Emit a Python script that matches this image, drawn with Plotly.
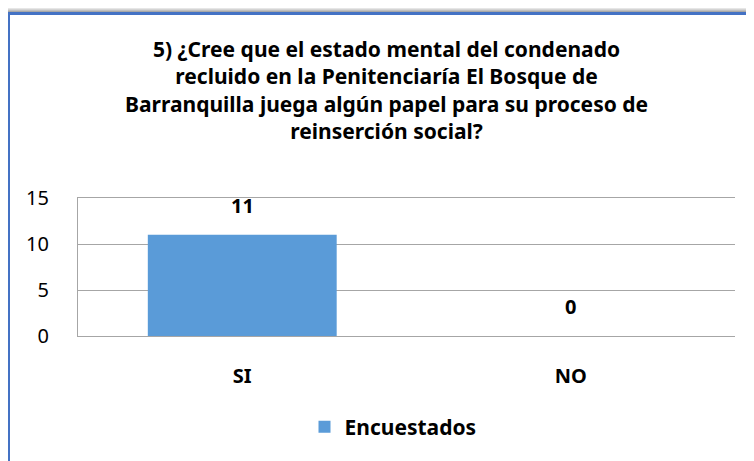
import plotly.graph_objects as go

# data
categories = ["SI", "NO"]
encuestados = [11, 0]
y_ticks = [0, 5, 10, 15]
title_lines = [
    "5) ¿Cree que el estado mental del condenado",
    "recluido en la Penitenciaría El Bosque de",
    "Barranquilla juega algún papel para su proceso de",
    "reinserción social?",
]

W, H = 754, 461
OFF = 8  # page body margin shifts the figure by 8px
# plot area in screen pixels: x 78..735, y 198..336
L, T = 78 - OFF, 198 - OFF
R, B = W - (735 - OFF), H - (336 - OFF)
pw, ph = W - L - R, H - T - B


def px(x):  # screen x -> paper
    return (x - OFF - L) / pw


def py(y):  # screen y -> paper
    return (H - B - (y - OFF)) / ph


fig = go.Figure()
fig.add_trace(go.Bar(x=categories, y=encuestados, name="Encuestados",
                     marker=dict(color="#5a9bd8", line=dict(width=0)),
                     width=0.575))

# value labels above bars
for c, v in zip(categories, encuestados):
    fig.add_annotation(x=c, y=v, text=str(v), showarrow=False, yanchor="bottom",
                       yshift=14, font=dict(family="Noto Sans", size=20, color="black", weight="bold"))

# title
fig.add_annotation(xref="paper", yref="paper", x=px(386), y=py(90),
                   xanchor="center", yanchor="middle", showarrow=False,
                   text="<br>".join(title_lines),
                   font=dict(family="Noto Sans", size=21, color="black", weight="bold"))

# frame with shadow
shapes = []
grays = ["#e6e6e6", "#d4d4d4", "#c0c0c0", "#a8a8a8"]
for i, g in enumerate(grays):
    shapes.append(dict(type="rect", xref="paper", yref="paper", layer="below",
                       x0=px(OFF), x1=px(W + 20), y0=py(H + 20), y1=py(OFF + i),
                       fillcolor=g, line_width=0))
shapes.append(dict(type="rect", xref="paper", yref="paper", layer="below",
                   x0=px(8.5), x1=px(W + 20), y0=py(H + 20), y1=py(13.5),
                   fillcolor="white", line=dict(color="#4472c4", width=3)))
fig.update_layout(shapes=shapes)

fig.update_xaxes(showgrid=False, showline=True, mirror=True, linecolor="#a6a6a6", linewidth=1,
                 ticks="", ticklabelstandoff=22,
                 tickfont=dict(family="Noto Sans", size=20, color="black", weight="bold"))
fig.update_yaxes(range=[0, 15], tickvals=y_ticks, showgrid=True, gridcolor="#a6a6a6",
                 gridwidth=1, showline=True, linecolor="#a6a6a6", linewidth=1,
                 zeroline=True, zerolinecolor="#a6a6a6", zerolinewidth=1,
                 ticks="", ticklabelstandoff=24,
                 tickfont=dict(family="Noto Sans", size=20, color="black"))

fig.update_layout(
    width=W, height=H,
    margin=dict(l=L, r=R, t=T, b=B, autoexpand=False),
    paper_bgcolor="white", plot_bgcolor="white",
    showlegend=True,
    legend=dict(orientation="h", x=px(393), xanchor="center", y=py(427), yanchor="middle",
                font=dict(family="Noto Sans", size=21, color="black", weight="bold"),
                bgcolor="rgba(0,0,0,0)"),
    bargap=0.4,
)

fig.write_html("out.html")
